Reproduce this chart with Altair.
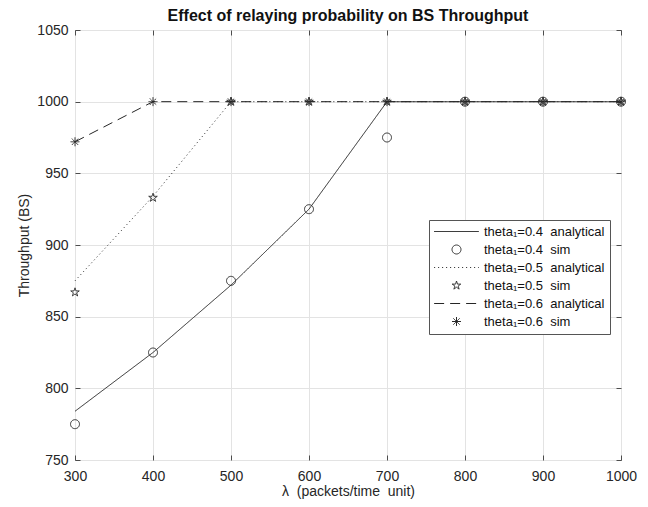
import altair as alt
import pandas as pd

# ---- data ----
lam = [300, 400, 500, 600, 700, 800, 900, 1000]
an_04 = [784, 825, 872, 925, 1000, 1000, 1000, 1000]
sim_04 = [775, 825, 875, 925, 975, 1000, 1000, 1000]
an_05 = [875, 934, 1000, 1000, 1000, 1000, 1000, 1000]
sim_05 = [867, 933, 1000, 1000, 1000, 1000, 1000, 1000]
an_06 = [972, 1000, 1000, 1000, 1000, 1000, 1000, 1000]
sim_06 = [972, 1000, 1000, 1000, 1000, 1000, 1000, 1000]

SP = "\u00a0\u00a0"
series = [
    f"theta\u2081=0.4{SP}analytical",
    f"theta\u2081=0.4{SP}sim",
    f"theta\u2081=0.5{SP}analytical",
    f"theta\u2081=0.5{SP}sim",
    f"theta\u2081=0.6{SP}analytical",
    f"theta\u2081=0.6{SP}sim",
]
x_ticks = [300, 400, 500, 600, 700, 800, 900, 1000]
y_ticks = [750, 800, 850, 900, 950, 1000, 1050]

LINE = "M-5,0L5,0"
STAR = ("M0,-1L0.2245,-0.309L0.951,-0.309L0.363,0.118L0.588,0.809L0,0.382"
        "L-0.588,0.809L-0.363,0.118L-0.951,-0.309L-0.2245,-0.309Z")
AST = "M0,-1L0,1M-1,0L1,0M-0.7,-0.7L0.7,0.7M-0.7,0.7L0.7,-0.7"
shapes = [LINE, "circle", LINE, STAR, LINE, AST]
dashes = [[1, 0], [1, 0], [1, 3], [1, 0], [10, 6], [1, 0]]

rows_l, rows_p = [], []
for name, vals in [(series[0], an_04), (series[2], an_05), (series[4], an_06)]:
    for a, v in zip(lam, vals):
        rows_l.append({"lam": a, "thr": v, "series": name})
for name, vals in [(series[1], sim_04), (series[3], sim_05), (series[5], sim_06)]:
    for a, v in zip(lam, vals):
        rows_p.append({"lam": a, "thr": v, "series": name})
line_df = pd.DataFrame(rows_l)
point_df = pd.DataFrame(rows_p)

xs = alt.Scale(domain=[300, 1000], nice=False, zero=False)
ys = alt.Scale(domain=[750, 1050], nice=False, zero=False)
dash_scale = alt.Scale(domain=series, range=dashes)
shape_scale = alt.Scale(domain=series, range=shapes)

INK = "#262626"
AXC = "#4d4d4d"

leg = alt.Legend(
    title=None, orient="none", legendX=354, legendY=190,
    padding=5, rowPadding=4, labelFontSize=13, labelColor="#111111",
    symbolSize=80, symbolStrokeWidth=1, symbolStrokeColor=INK,
    symbolFillColor="transparent", symbolOffset=16, labelOffset=21,
    strokeColor="#555555", fillColor="white",
)

grid_layer = alt.Chart(point_df).mark_point(opacity=0).encode(
    x=alt.X("lam:Q", scale=xs, axis=alt.Axis(grid=True, ticks=False, labels=False, domain=False,
                                             title=None, values=x_ticks, gridColor="#e3e3e3",
                                             gridWidth=1, orient="bottom")),
    y=alt.Y("thr:Q", scale=ys, axis=alt.Axis(grid=True, ticks=False, labels=False, domain=False,
                                             title=None, values=y_ticks, gridColor="#e3e3e3",
                                             gridWidth=1, orient="left")),
)

main_axes = alt.Chart(point_df).mark_point(opacity=0).encode(
    x=alt.X("lam:Q", scale=xs, axis=alt.Axis(
        orient="bottom", offset=-5, grid=False, domain=False, tickSize=5, tickColor=AXC,
        values=x_ticks, format="d", labelFlush=False, labelFontSize=14, labelPadding=9,
        labelColor=INK,
        title="\u03bb\u00a0\u00a0(packets/time\u00a0\u00a0unit)", titleFontSize=14,
        titleFontWeight="normal", titleColor=INK, titlePadding=1)),
    y=alt.Y("thr:Q", scale=ys, axis=alt.Axis(
        orient="left", offset=-5, grid=False, domain=False, tickSize=5, tickColor=AXC,
        values=y_ticks, format="d", labelFlush=False, labelFontSize=14, labelPadding=7,
        labelColor=INK,
        title="Throughput (BS)", titleFontSize=14, titleFontWeight="normal",
        titleColor=INK, titlePadding=5)),
)

opp_axes = alt.Chart(point_df).mark_point(opacity=0).encode(
    x=alt.X("lam:Q", scale=xs, axis=alt.Axis(
        orient="top", offset=-5, grid=False, domain=False, tickSize=5, tickColor=AXC,
        values=x_ticks, labels=False, title=None)),
    y=alt.Y("thr:Q", scale=ys, axis=alt.Axis(
        orient="right", offset=-5, grid=False, domain=False, tickSize=5, tickColor=AXC,
        values=y_ticks, labels=False, title=None)),
)

lines = alt.Chart(line_df).mark_line(color=INK, strokeWidth=1).encode(
    x=alt.X("lam:Q", scale=xs, axis=None),
    y=alt.Y("thr:Q", scale=ys, axis=None),
    strokeDash=alt.StrokeDash("series:N", scale=dash_scale, legend=leg),
    detail="series:N",
)

points = alt.Chart(point_df).mark_point(filled=False, color=INK, strokeWidth=1, size=80, opacity=1).encode(
    x=alt.X("lam:Q", scale=xs, axis=None),
    y=alt.Y("thr:Q", scale=ys, axis=None),
    shape=alt.Shape("series:N", scale=shape_scale, legend=leg),
    strokeDash=alt.StrokeDash("series:N", scale=dash_scale, legend=leg),
)

chart = alt.layer(grid_layer, main_axes, opp_axes, lines, points).resolve_axis(
    x="independent", y="independent"
).properties(
    width=546,
    height=430,
    autosize=alt.AutoSizeParams(type="none"),
    padding={"left": 67, "top": 22, "right": 19, "bottom": 39},
    title=alt.TitleParams(
        "Effect of relaying probability on BS Throughput",
        fontSize=16, fontWeight="bold", anchor="middle", offset=2, dy=3, color="#111111",
    ),
).configure(
    font="Liberation Sans",
).configure_view(
    stroke=AXC, strokeWidth=1,
)

chart.save("out.html", embed_options={"renderer": "svg", "actions": False})
